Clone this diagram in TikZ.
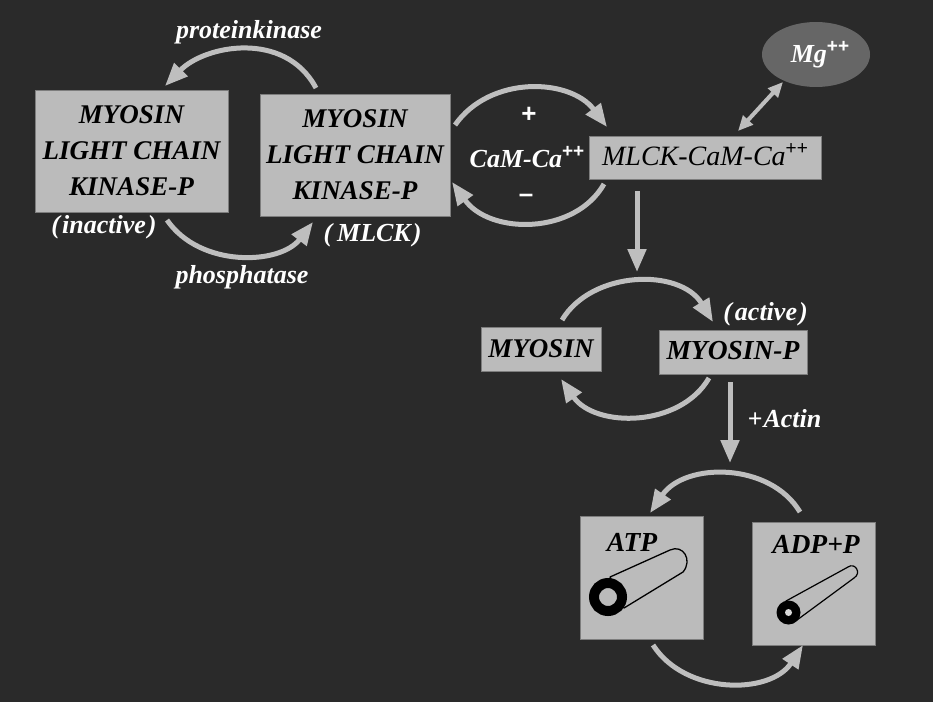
\documentclass[tikz,border=0pt]{standalone}
\usepackage{fontspec}
\setmainfont{Liberation Serif}
\setsansfont{Liberation Sans}
\usetikzlibrary{arrows.meta,shapes.geometric}
\definecolor{bgc}{RGB}{42,42,42}
\definecolor{boxg}{RGB}{187,187,187}
\definecolor{boxedge}{RGB}{125,125,125}
\definecolor{arrc}{RGB}{190,190,190}
\definecolor{mgc}{RGB}{102,102,102}
\newcommand\plusplus[2][10]{\raisebox{#1pt}{\fontsize{19}{19}\selectfont\sffamily\upshape #2++}}
\begin{document}
\begin{tikzpicture}[x=1pt,y=-1pt,
  box/.style={fill=boxg, draw=boxedge, line width=0.8pt, inner sep=0pt, align=center, text=black},
  btxt/.style={font=\fontsize{27}{36}\selectfont\bfseries\itshape},
  lbl/.style={text=white, anchor=base, inner sep=0pt, font=\fontsize{26}{30}\selectfont\bfseries\itshape},
  blbl/.style={text=black, anchor=base, inner sep=0pt, font=\fontsize{27.5}{30}\selectfont\bfseries\itshape},
  sgn/.style={text=white, inner sep=0pt, font=\fontsize{26}{30}\selectfont\sffamily\bfseries},
  arcs/.style={draw=arrc, line width=5pt, -{Triangle[length=23pt,width=18pt]}},
  dbl/.style={draw=arrc, line width=4pt, {Triangle[length=15pt,width=13pt]}-{Triangle[length=15pt,width=13pt]}},
]
\fill[bgc] (0,0) rectangle (933,702);
\useasboundingbox (0,0) rectangle (933,702);

% boxes
\node[box, btxt, minimum width=193pt, minimum height=122pt] (b1) at (131.5,151) {MYOSIN\\LIGHT CHAIN\\KINASE-P};
\node[box, btxt, minimum width=190pt, minimum height=122pt] (b2) at (355,155) {MYOSIN\\LIGHT CHAIN\\KINASE-P};
\node[box, minimum width=232pt, minimum height=43pt, text height=18pt, text depth=3pt,
      font=\fontsize{28}{30}\selectfont\itshape] (mlck) at (705,157.5) {MLCK-CaM-Ca\plusplus[10.5]{}};
\node[ellipse, fill=mgc, minimum width=108pt, minimum height=65pt, inner sep=0pt] (mg) at (816,54.5) {};
\node[box, btxt, font=\fontsize{27}{30}\selectfont\bfseries\itshape, minimum width=120pt, minimum height=44pt, text height=19pt, text depth=3pt] (myo) at (541,349) {MYOSIN};
\node[box, btxt, font=\fontsize{27.5}{30}\selectfont\bfseries\itshape, minimum width=148pt, minimum height=44pt, text height=18pt, text depth=4pt] (myop) at (733,352) {MYOSIN-P};
\node[box, minimum width=123pt, minimum height=123pt] (atpb) at (641.5,577.5) {};
\node[box, minimum width=123pt, minimum height=123pt] (adpb) at (813.5,583.5) {};

% labels
\node[lbl] (lpk) at (249,38) {proteinkinase};
\node[lbl] (lph) at (242,283) {phosphatase};
\node[lbl] (lin) at (104,233) {(\kern2pt inactive\kern2pt)};
\node[lbl] (lml) at (372.5,241) {(\kern5pt MLCK\kern2pt)};
\node[sgn] (lplus) at (529,115) {+};
\node[lbl] (lcam) at (527,167) {CaM-Ca\plusplus[9.5]{}};
\node[sgn] (lminus) at (526,198) {–};
\node[lbl] (lmg) at (820,62) {Mg\plusplus[10]{\bfseries}};
\node[lbl] (lact) at (765.5,320) {(\kern3pt active\kern2pt)};
\node[lbl] (lactin) at (784.5,427) {+\kern1pt Actin};
\node[blbl] (latp) at (632,551) {ATP};
\node[blbl] (ladp) at (816,553) {ADP+P};

% tubes
\filldraw[fill=boxg, draw=black, line width=1.3pt, line join=round] (610,577) -- (670,550) .. controls (683,544) and (693,560) .. (683,572) -- (624,608) -- cycle;
\fill[boxg] (608,597) circle[radius=18pt];
\draw[black, line width=10pt] (608,597) circle[radius=14pt];
\filldraw[fill=boxg, draw=black, line width=1.2pt, line join=round] (786,601) -- (848,567) .. controls (855,562) and (862,573) .. (854,578) -- (797,620) -- cycle;
\fill[black] (788.5,612.5) circle[radius=12pt];
\fill[black!15] (788.5,612.5) circle[radius=3.5pt];

% connector end points
\coordinate (pk1) at (316,88);  \coordinate (pk2) at (165,86);
\coordinate (ph1) at (167,220); \coordinate (ph2) at (313,222);
\coordinate (ca1) at (455,125); \coordinate (ca2) at (607,127);
\coordinate (cm1) at (604,184); \coordinate (cm2) at (452,182);
\coordinate (mg1) at (738,131); \coordinate (mg2) at (783,82);
\coordinate (dn1) at (637,191); \coordinate (dn2) at (637,272);
\coordinate (my1) at (562,320); \coordinate (my2) at (713,322);
\coordinate (mb1) at (709,378); \coordinate (mb2) at (561,379);
\coordinate (ac1) at (730,382); \coordinate (ac2) at (730,463);
\coordinate (at1) at (800,512); \coordinate (at2) at (650,513);
\coordinate (ab1) at (653,645); \coordinate (ab2) at (803,645);

% connectors
\draw[arcs] (pk1) .. controls (285,30) and (205,45) .. (pk2);
\draw[arcs] (ph1) .. controls (200,268) and (280,265) .. (ph2);
\draw[arcs] (ca1) .. controls (490,75) and (570,78) .. (ca2);
\draw[arcs] (cm1) .. controls (575,235) and (490,235) .. (cm2);
\draw[dbl] (mg1) -- (mg2);
\draw[arcs] (dn1) -- (dn2);
\draw[arcs] (my1) .. controls (592,270) and (680,268) .. (my2);
\draw[arcs] (mb1) .. controls (680,428) and (595,428) .. (mb2);
\draw[arcs] (ac1) -- (ac2);
\draw[arcs] (at1) .. controls (770,462) and (685,462) .. (at2);
\draw[arcs] (ab1) .. controls (685,695) and (770,695) .. (ab2);
\end{tikzpicture}
\end{document}
